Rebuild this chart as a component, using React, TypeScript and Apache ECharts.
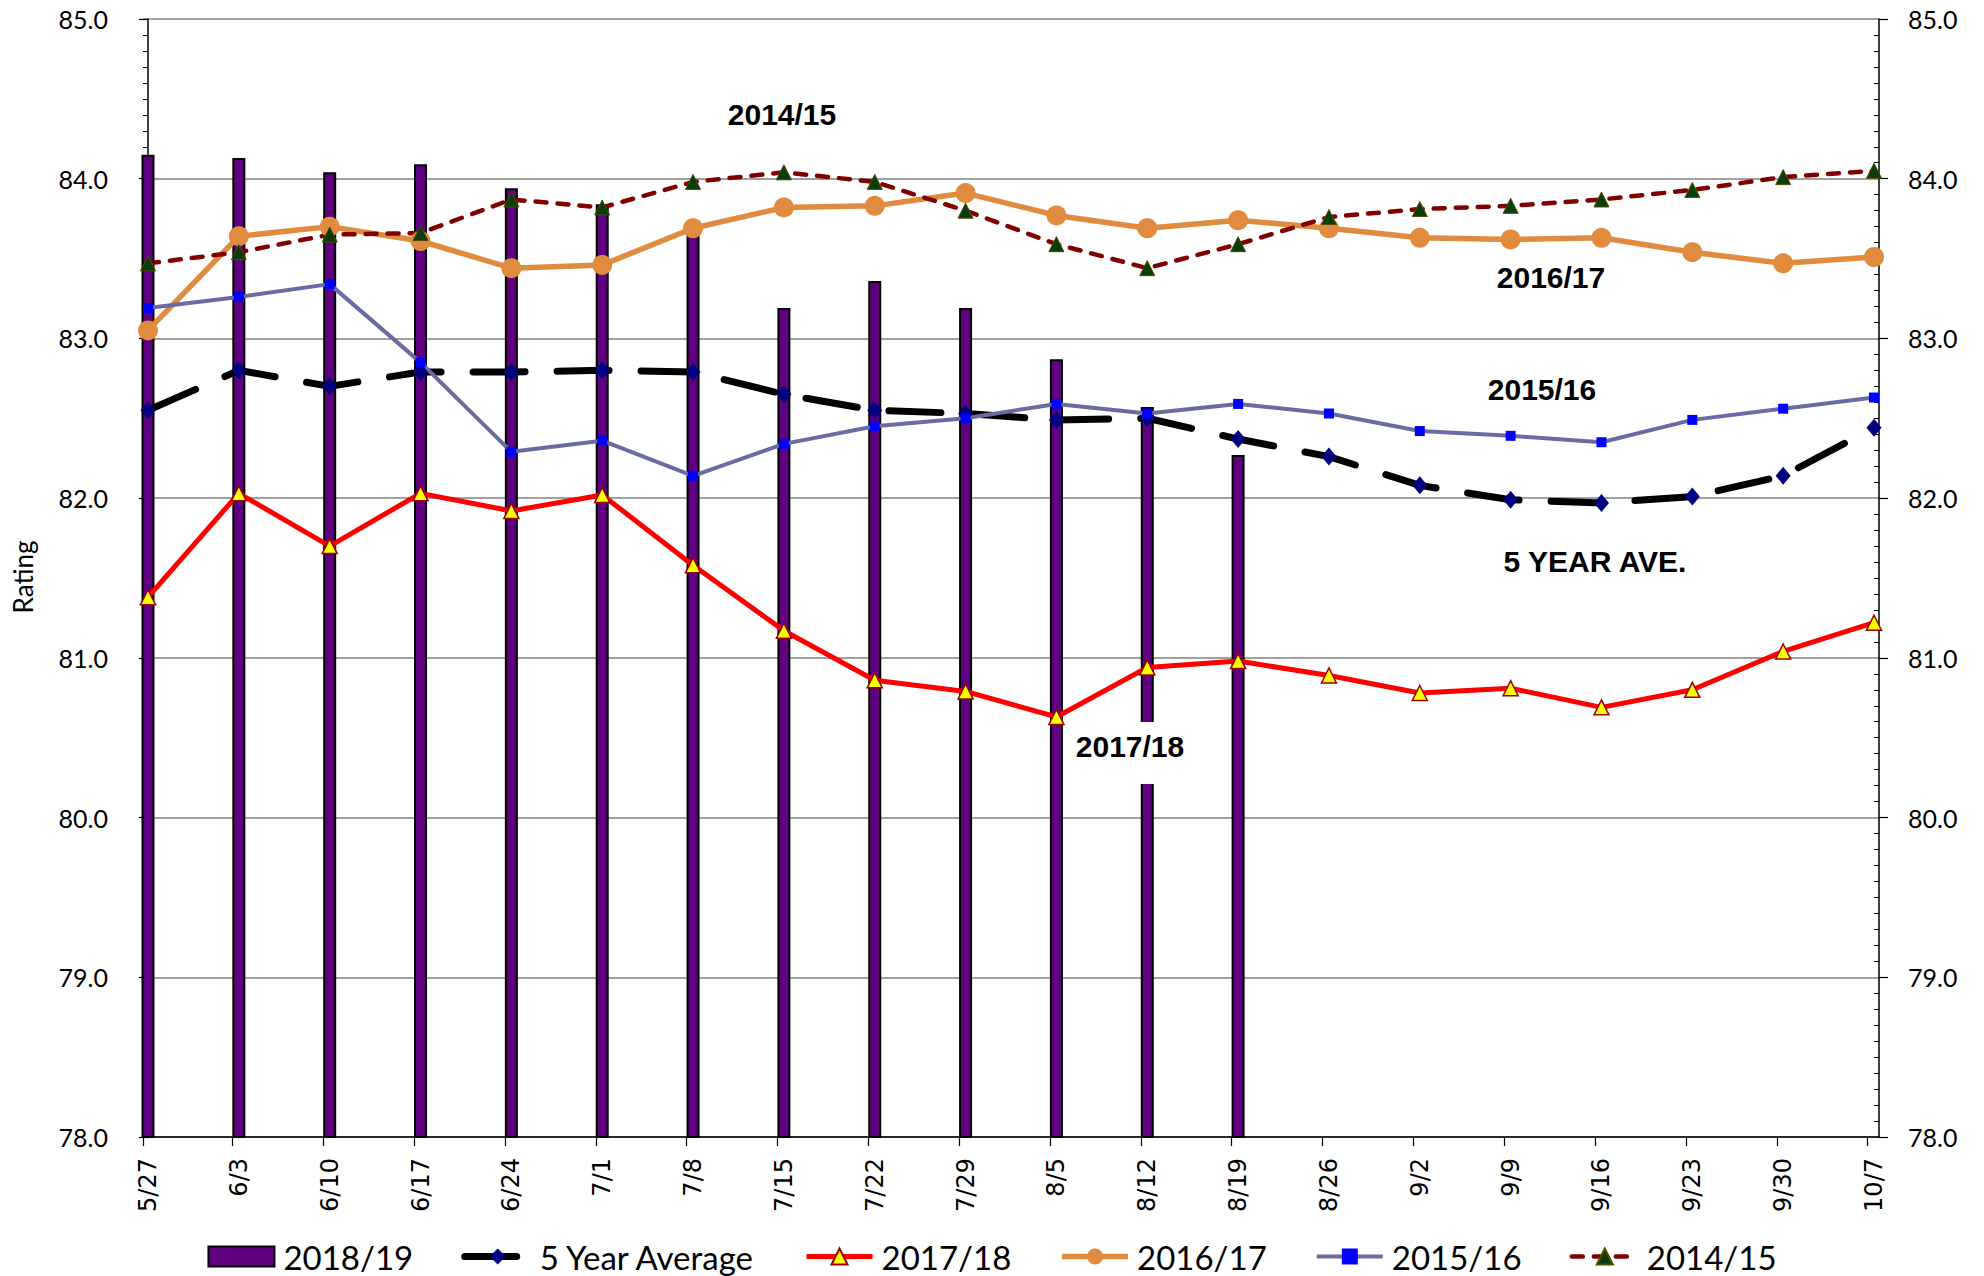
import React, { useEffect, useRef } from "react";
import * as echarts from "echarts";

const categories = ["5/27", "6/3", "6/10", "6/17", "6/24", "7/1", "7/8", "7/15", "7/22", "7/29", "8/5", "8/12", "8/19", "8/26", "9/2", "9/9", "9/16", "9/23", "9/30", "10/7"];

const season2018: (number | null)[] = [84.15, 84.13, 84.04, 84.09, 83.94, 83.84, 83.7, 83.19, 83.36, 83.19, 82.87, 82.57, 82.27, null, null, null, null, null, null, null];
const fiveYearAvg = [82.55, 82.8, 82.7, 82.79, 82.79, 82.8, 82.79, 82.65, 82.55, 82.53, 82.49, 82.5, 82.37, 82.26, 82.08, 81.99, 81.97, 82.01, 82.14, 82.44];
const season2017 = [81.38, 82.03, 81.7, 82.03, 81.92, 82.02, 81.58, 81.17, 80.86, 80.79, 80.63, 80.94, 80.98, 80.89, 80.78, 80.81, 80.69, 80.8, 81.04, 81.22];
const season2016 = [83.05, 83.64, 83.7, 83.61, 83.44, 83.46, 83.69, 83.82, 83.83, 83.91, 83.77, 83.69, 83.74, 83.69, 83.63, 83.62, 83.63, 83.54, 83.47, 83.51];
const season2015 = [83.19, 83.26, 83.34, 82.85, 82.29, 82.36, 82.14, 82.34, 82.45, 82.5, 82.59, 82.53, 82.59, 82.53, 82.42, 82.39, 82.35, 82.49, 82.56, 82.63];
const season2014 = [83.47, 83.54, 83.65, 83.66, 83.87, 83.82, 83.98, 84.04, 83.98, 83.8, 83.59, 83.44, 83.59, 83.76, 83.81, 83.83, 83.87, 83.93, 84.01, 84.05];

const yTicks = { min: 78, max: 85, interval: 1 };
const seriesNames = ["2018/19", "5 Year Average", "2017/18", "2016/17", "2015/16", "2014/15"];

const annotations = [
  { text: "2014/15", x: 782, y: 114 },
  { text: "2016/17", x: 1551, y: 277 },
  { text: "2015/16", x: 1542, y: 389 },
  { text: "5 YEAR AVE.", x: 1595, y: 561 },
  { text: "2017/18", x: 1130, y: 746 },
];

const toPairs = (arr: (number | null)[]) =>
  arr.map((v, i) => (v === null ? null : [i, v])).filter((d) => d !== null);

export default function App() {
  const ref = useRef<HTMLDivElement>(null);
  useEffect(() => {
    if (!ref.current) return;
    const chart = echarts.init(ref.current, null, { renderer: "svg" });
    const idx = categories.map((_, i) => i);
    const tickPos = categories.map((_, i) => Math.max(-0.055, i - 0.07));
    const labelFont = "Lato";
    const yBase = (position: string, labels: boolean, margin: number) => ({
      type: "value",
      position,
      ...yTicks,
      axisLine: { show: true, lineStyle: { color: "#000", width: 1.5 } },
      axisTick: { show: true, length: 9, inside: false, lineStyle: { color: "#000", width: 1.2 } },
      axisLabel: {
        show: labels,
        margin,
        fontFamily: labelFont,
        fontSize: 25,
        color: "#000",
        formatter: (v: number) => v.toFixed(1),
      },
      splitLine: { show: false },
    });
    const yMinor = (position: string) => ({
      type: "value",
      position,
      ...yTicks,
      axisLine: { show: false },
      axisTick: { show: false, inside: true },
      axisLabel: { show: false },
      splitLine: { show: false },
      minorTick: { show: true, splitNumber: 10, length: 5, lineStyle: { color: "#000", width: 1 } },
    });
    const left = yBase("left", true, 35) as any;
    left.splitLine = { show: true, lineStyle: { color: "#808080", width: 1.5 } };

    chart.setOption({
      animation: false,
      backgroundColor: "#fff",
      grid: { left: 143, right: 105, top: 19, bottom: 139, containLabel: false },
      xAxis: {
        type: "value",
        min: -0.055,
        max: 19.055,
        axisLine: { show: true, onZero: false, lineStyle: { color: "#000", width: 1.5 } },
        axisTick: { show: true, customValues: tickPos, length: 9, lineStyle: { color: "#000", width: 1.2 } },
        axisLabel: {
          show: true,
          customValues: idx,
          formatter: (v: number) => categories[Math.round(v)],
          rotate: 90,
          margin: 21,
          fontFamily: "DejaVu Sans",
          fontSize: 24,
          color: "#000",
        },
        splitLine: { show: false },
      },
      yAxis: [left, yMinor("left"), yBase("right", true, 29), yMinor("right")],
      legend: {
        data: [
          { name: "2018/19", icon: "rect" },
          { name: "5 Year Average" },
          { name: "2017/18" },
          { name: "2016/17" },
          { name: "2015/16" },
          { name: "2014/15" },
        ],
        left: "center",
        top: 1235,
        itemWidth: 66,
        itemHeight: 20,
        itemGap: 48,
        lineStyle: { width: "inherit" },
        textStyle: { fontFamily: labelFont, fontSize: 33, color: "#000", lineHeight: 33, padding: [0, 0, 0, 4] },
      },
      series: [
        {
          type: "bar",
          name: seriesNames[0],
          data: toPairs(season2018),
          barWidth: 13,
          itemStyle: { color: "#5e0080", borderColor: "#000", borderWidth: 2 },
        },
        {
          type: "line",
          name: seriesNames[1],
          data: toPairs(fiveYearAvg),
          symbol: "diamond",
          symbolSize: [15, 18],
          itemStyle: { color: "#000080", borderWidth: 0 },
          lineStyle: { color: "#000", width: 7, type: [52, 32], cap: "round" },
        },
        {
          type: "line",
          name: seriesNames[2],
          data: toPairs(season2017),
          symbol: "triangle",
          symbolSize: 15,
          itemStyle: { color: "#ffff00", borderColor: "#990000", borderWidth: 1.5 },
          lineStyle: { color: "#ff0000", width: 5 },
        },
        {
          type: "line",
          name: seriesNames[3],
          data: toPairs(season2016),
          symbol: "circle",
          symbolSize: 20,
          itemStyle: { color: "#e08b3e", borderWidth: 0 },
          lineStyle: { color: "#e08b3e", width: 5.5 },
        },
        {
          type: "line",
          name: seriesNames[4],
          data: toPairs(season2015),
          symbol: "rect",
          symbolSize: 10,
          itemStyle: { color: "#0000ff", borderWidth: 0 },
          lineStyle: { color: "#6b6ba3", width: 4 },
        },
        {
          type: "line",
          name: seriesNames[5],
          data: toPairs(season2014),
          symbol: "triangle",
          symbolSize: 15,
          itemStyle: { color: "#0b3d0b", borderColor: "#4d4d00", borderWidth: 1 },
          lineStyle: { color: "#800000", width: 4.5, type: [11, 11], cap: "round" },
        },
      ],
      graphic: [
        {
          type: "rect",
          z: 100,
          shape: { x: 1074, y: 722, width: 114, height: 62 },
          style: { fill: "#fff" },
        },
        ...annotations.map((a) => ({
          type: "text",
          z: 101,
          x: a.x,
          y: a.y,
          style: {
            text: a.text,
            fill: "#000",
            fontFamily: "Liberation Sans",
            fontWeight: "bold",
            fontSize: 30,
            align: "center",
            verticalAlign: "middle",
          },
        })),
        {
          type: "text",
          z: 101,
          x: 23,
          y: 577,
          rotation: Math.PI / 2,
          style: {
            text: "Rating",
            fill: "#000",
            fontFamily: labelFont,
            fontSize: 26,
            align: "center",
            verticalAlign: "middle",
          },
        },
      ],
    });
    return () => chart.dispose();
  }, []);
  return <div ref={ref} style={{ position: "absolute", left: 0, top: 0, width: 1984, height: 1276 }} />;
}
